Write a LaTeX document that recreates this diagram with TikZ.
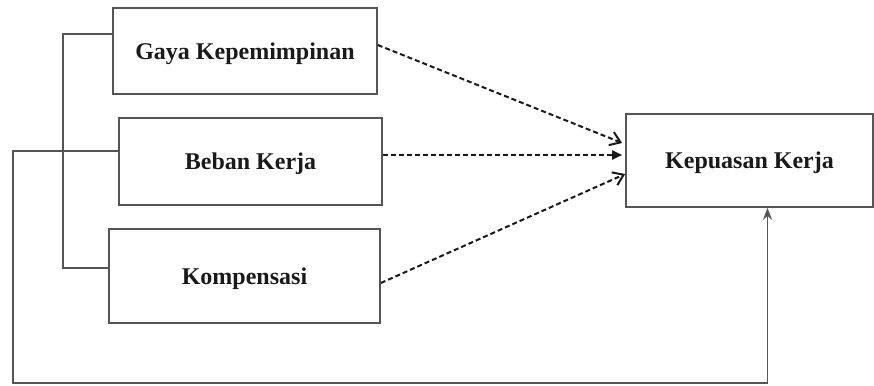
\documentclass[tikz,border=0pt]{standalone}
\usepackage{fontspec}
\setmainfont{Liberation Serif}
\usetikzlibrary{positioning, calc, arrows.meta}

\definecolor{rahmen}{HTML}{555555}
\definecolor{schrift}{HTML}{1A1A1A}

\tikzset{
	kotak/.style={draw=rahmen, line width=1.6pt, text=schrift, font=\fontsize{24}{28}\selectfont\bfseries, text depth=0pt},
	garis/.style={draw=rahmen, line width=1.6pt},
	putus/.style={draw=schrift, line width=2pt, dash pattern=on 5pt off 3pt},
}

\begin{document}
\begin{tikzpicture}[x=1pt, y=-1pt]
	\useasboundingbox (0,0) rectangle (874,385);
	\node at (245,51) [kotak, minimum width=264pt, minimum height=86pt] (gaya) {Gaya Kepemimpinan};
	\node at (250.5,161.5) [kotak, minimum width=263pt, minimum height=87pt] (beban) {Beban Kerja};
	\node at (244.5,276) [kotak, minimum width=271pt, minimum height=94pt] (kompensasi) {Kompensasi};
	\node at (749.5,160.5) [kotak, minimum width=247pt, minimum height=93pt] (kepuasan) {Kepuasan Kerja};
	% titik sambung
	\coordinate (g1) at (gaya.west |- 0,34);
	\coordinate (b1) at (beban.west |- 0,151);
	\coordinate (k1) at (kompensasi.west |- 0,268);
	\coordinate (p1) at ([xshift=18pt]kepuasan.south);
	\draw [garis] (g1) -| (63,268) -- (k1);
	\draw [garis, -{Stealth[length=12pt, width=9pt]}] (b1) -| (13,383) -| (p1);
	% panah putus-putus
	\draw [putus, -{Straight Barb[length=10pt, width=14pt]}] ([yshift=6pt]gaya.east) -- ([yshift=17.5pt, xshift=-3pt]kepuasan.west);
	\draw [putus, -{Triangle[length=10pt, width=9pt]}] ([yshift=6.5pt]beban.east) -- ([yshift=5.5pt, xshift=-3pt]kepuasan.west);
	\draw [putus, -{Straight Barb[length=10pt, width=14pt]}] ([yshift=-7pt]kompensasi.east) -- ([yshift=-13.5pt]kepuasan.west);
\end{tikzpicture}
\end{document}
